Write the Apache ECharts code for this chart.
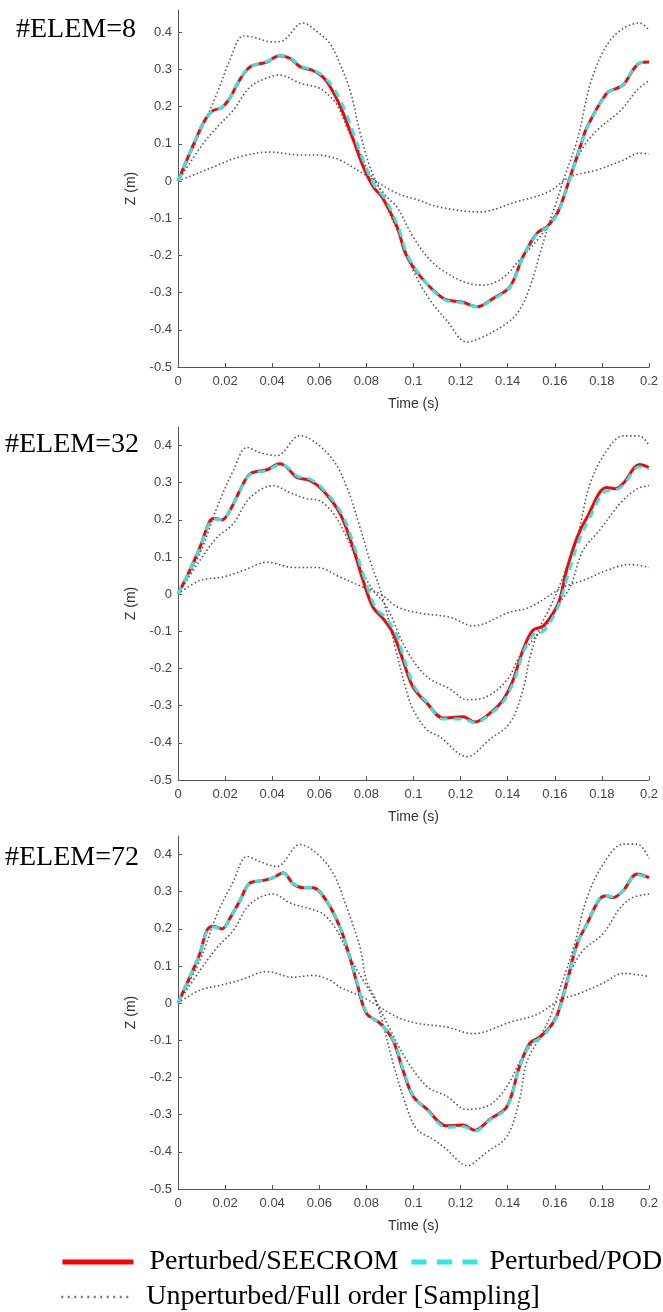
<!DOCTYPE html>
<html>
<head>
<meta charset="utf-8">
<script src="https://cdn.jsdelivr.net/npm/echarts@6/dist/echarts.min.js"></script>
<style>html,body{margin:0;padding:0;background:#fff}#c{width:663px;height:1312px}</style>
</head>
<body>
<div id="c"></div>
<script>
// ---------- DATA ----------
var panelTitles = ['#ELEM=8', '#ELEM=32', '#ELEM=72'];
var xTicks = [0, 0.02, 0.04, 0.06, 0.08, 0.1, 0.12, 0.14, 0.16, 0.18, 0.2];
var yTicks = [-0.5, -0.4, -0.3, -0.2, -0.1, 0, 0.1, 0.2, 0.3, 0.4];
var seriesNames = ['Perturbed/SEECROM', 'Perturbed/POD', 'Unperturbed/Full order [Sampling]'];

// #ELEM=8
var e8_seecrom = [[0,0],[0.006,0.09],[0.0115,0.165],[0.015,0.19],[0.0185,0.197],[0.022,0.223],[0.026,0.27],[0.0306,0.307],[0.0377,0.32],[0.043,0.337],[0.0476,0.33],[0.052,0.307],[0.057,0.298],[0.0615,0.28],[0.0645,0.255],[0.069,0.2],[0.0745,0.11],[0.0787,0.038],[0.083,-0.016],[0.087,-0.046],[0.093,-0.123],[0.097,-0.2],[0.103,-0.257],[0.1126,-0.315],[0.121,-0.326],[0.127,-0.338],[0.134,-0.315],[0.141,-0.284],[0.1465,-0.203],[0.1525,-0.14],[0.1567,-0.123],[0.161,-0.087],[0.1635,-0.048],[0.1665,0.01],[0.1707,0.09],[0.1737,0.145],[0.182,0.236],[0.1865,0.25],[0.189,0.258],[0.196,0.317],[0.2,0.32]];
var e8_pod = [[0,0],[0.006,0.09],[0.0115,0.165],[0.015,0.19],[0.0185,0.197],[0.022,0.223],[0.026,0.27],[0.0306,0.307],[0.0377,0.321],[0.043,0.338],[0.0476,0.332],[0.052,0.309],[0.057,0.3],[0.0615,0.283],[0.0655,0.255],[0.0702,0.2],[0.0755,0.11],[0.0797,0.038],[0.0838,-0.016],[0.0878,-0.046],[0.0935,-0.123],[0.0975,-0.2],[0.1033,-0.257],[0.1126,-0.317],[0.121,-0.328],[0.127,-0.338],[0.134,-0.317],[0.141,-0.285],[0.1465,-0.205],[0.1525,-0.142],[0.1567,-0.125],[0.161,-0.089],[0.1635,-0.05],[0.1665,0.008],[0.1707,0.088],[0.1737,0.143],[0.182,0.235],[0.1865,0.25],[0.189,0.258],[0.196,0.318],[0.2,0.32]];
var e8_fullA = [[0,0],[0.0093,0.13],[0.0166,0.236],[0.022,0.325],[0.0277,0.39],[0.032,0.387],[0.04,0.374],[0.044,0.376],[0.053,0.425],[0.06,0.397],[0.0645,0.37],[0.0675,0.333],[0.073,0.245],[0.0773,0.13],[0.0815,0.038],[0.0858,-0.024],[0.0887,-0.07],[0.0955,-0.167],[0.0998,-0.24],[0.107,-0.32],[0.114,-0.374],[0.1227,-0.433],[0.1295,-0.419],[0.1397,-0.382],[0.145,-0.347],[0.1495,-0.284],[0.1537,-0.195],[0.158,-0.105],[0.161,-0.051],[0.1635,0],[0.1695,0.11],[0.176,0.28],[0.1847,0.387],[0.196,0.425],[0.2,0.405]];
var e8_fullB = [[0,0],[0.0106,0.1],[0.0166,0.145],[0.0234,0.19],[0.0306,0.253],[0.0377,0.277],[0.043,0.285],[0.052,0.263],[0.06,0.25],[0.0645,0.228],[0.068,0.2],[0.0717,0.145],[0.0773,0.075],[0.0815,0.02],[0.0887,-0.043],[0.093,-0.07],[0.0998,-0.15],[0.107,-0.212],[0.114,-0.247],[0.1227,-0.274],[0.1295,-0.28],[0.138,-0.26],[0.145,-0.212],[0.1525,-0.159],[0.158,-0.113],[0.1635,-0.051],[0.1665,0.011],[0.172,0.09],[0.178,0.137],[0.188,0.19],[0.195,0.245],[0.2,0.27]];
var e8_fullC = [[0,0],[0.008,0.02],[0.015,0.038],[0.026,0.065],[0.039,0.078],[0.052,0.07],[0.06,0.07],[0.0645,0.065],[0.069,0.056],[0.0787,0.02],[0.093,-0.033],[0.1015,-0.05],[0.111,-0.07],[0.128,-0.083],[0.144,-0.055],[0.157,-0.03],[0.1665,0.011],[0.178,0.03],[0.189,0.056],[0.196,0.075],[0.2,0.073]];

// #ELEM=32
var e32_seecrom = [[0,0],[0.005,0.064],[0.0093,0.126],[0.0136,0.198],[0.0157,0.204],[0.0187,0.2],[0.022,0.225],[0.0263,0.279],[0.0306,0.324],[0.0378,0.335],[0.0433,0.351],[0.0463,0.341],[0.0505,0.314],[0.056,0.306],[0.0616,0.279],[0.0688,0.217],[0.0743,0.126],[0.0786,0.037],[0.0828,-0.035],[0.087,-0.065],[0.0913,-0.105],[0.0955,-0.177],[0.0998,-0.25],[0.1057,-0.293],[0.1125,-0.333],[0.121,-0.33],[0.126,-0.344],[0.1325,-0.32],[0.138,-0.285],[0.1423,-0.231],[0.1465,-0.15],[0.1507,-0.097],[0.155,-0.086],[0.1593,-0.051],[0.162,-0.016],[0.165,0.064],[0.1695,0.153],[0.1737,0.207],[0.182,0.287],[0.1857,0.284],[0.189,0.298],[0.196,0.349],[0.2,0.341]];
var e32_pod = [[0,0],[0.005,0.064],[0.0093,0.126],[0.0136,0.195],[0.0157,0.202],[0.0187,0.2],[0.022,0.225],[0.0263,0.279],[0.0306,0.322],[0.0378,0.333],[0.0433,0.349],[0.0463,0.342],[0.0505,0.318],[0.056,0.31],[0.0616,0.283],[0.0695,0.217],[0.075,0.126],[0.0795,0.037],[0.0838,-0.035],[0.088,-0.062],[0.0925,-0.105],[0.0962,-0.177],[0.1005,-0.25],[0.106,-0.293],[0.1125,-0.336],[0.121,-0.336],[0.126,-0.346],[0.1325,-0.323],[0.138,-0.29],[0.1428,-0.231],[0.147,-0.15],[0.1515,-0.105],[0.155,-0.1],[0.159,-0.065],[0.1622,-0.02],[0.1655,0.05],[0.17,0.14],[0.1742,0.198],[0.182,0.278],[0.1857,0.28],[0.189,0.293],[0.196,0.343],[0.2,0.337]];
var e32_fullA = [[0,0],[0.0093,0.11],[0.0166,0.234],[0.0235,0.333],[0.0293,0.395],[0.0348,0.381],[0.042,0.373],[0.0518,0.427],[0.0573,0.413],[0.066,0.36],[0.0717,0.288],[0.0773,0.18],[0.0815,0.091],[0.0865,0],[0.0925,-0.15],[0.097,-0.26],[0.0998,-0.31],[0.1057,-0.365],[0.111,-0.383],[0.1227,-0.437],[0.1325,-0.39],[0.141,-0.346],[0.1465,-0.257],[0.1495,-0.168],[0.1537,-0.088],[0.158,-0.035],[0.1635,0.046],[0.1695,0.153],[0.175,0.298],[0.182,0.386],[0.189,0.426],[0.196,0.426],[0.2,0.4]];
var e32_fullB = [[0,0],[0.0093,0.091],[0.0166,0.153],[0.0235,0.19],[0.0306,0.26],[0.0405,0.292],[0.0476,0.273],[0.0548,0.257],[0.06,0.252],[0.066,0.217],[0.0717,0.153],[0.0773,0.072],[0.0828,0.011],[0.0887,-0.035],[0.097,-0.15],[0.1057,-0.222],[0.1155,-0.255],[0.1227,-0.284],[0.131,-0.276],[0.1397,-0.231],[0.145,-0.168],[0.1507,-0.123],[0.158,-0.07],[0.162,-0.024],[0.1665,0.019],[0.172,0.118],[0.179,0.172],[0.1877,0.244],[0.195,0.284],[0.2,0.292]];
var e32_fullC = [[0,0],[0.0093,0.037],[0.019,0.046],[0.0277,0.064],[0.0378,0.086],[0.049,0.072],[0.059,0.072],[0.0688,0.046],[0.0786,0.019],[0.086,0],[0.0935,-0.035],[0.1028,-0.051],[0.1155,-0.062],[0.1253,-0.085],[0.141,-0.048],[0.1495,-0.035],[0.1635,0.019],[0.172,0.037],[0.182,0.064],[0.192,0.08],[0.2,0.072]];

// #ELEM=72
var e72_seecrom = [[0,0],[0.005,0.07],[0.0093,0.134],[0.0123,0.196],[0.015,0.207],[0.0187,0.2],[0.022,0.228],[0.0263,0.276],[0.0306,0.324],[0.036,0.33],[0.0405,0.338],[0.0446,0.351],[0.049,0.321],[0.0531,0.311],[0.0573,0.311],[0.063,0.276],[0.0688,0.204],[0.073,0.123],[0.076,0.054],[0.08,-0.027],[0.0858,-0.054],[0.0913,-0.1],[0.0955,-0.18],[0.0998,-0.25],[0.1057,-0.285],[0.114,-0.33],[0.121,-0.328],[0.126,-0.342],[0.1325,-0.312],[0.1397,-0.278],[0.145,-0.171],[0.1495,-0.107],[0.1537,-0.091],[0.158,-0.064],[0.161,-0.032],[0.165,0.054],[0.1695,0.16],[0.1737,0.214],[0.179,0.28],[0.182,0.289],[0.1847,0.284],[0.189,0.303],[0.195,0.348],[0.2,0.338]];
var e72_pod = [[0,0],[0.005,0.07],[0.0093,0.134],[0.0123,0.194],[0.015,0.205],[0.0187,0.2],[0.022,0.228],[0.0263,0.276],[0.0306,0.324],[0.036,0.33],[0.0405,0.338],[0.0446,0.35],[0.049,0.322],[0.0531,0.312],[0.0573,0.311],[0.063,0.277],[0.0688,0.205],[0.073,0.123],[0.0762,0.054],[0.0802,-0.027],[0.0858,-0.055],[0.0915,-0.1],[0.0957,-0.18],[0.1,-0.25],[0.1057,-0.287],[0.114,-0.334],[0.121,-0.332],[0.126,-0.344],[0.1325,-0.314],[0.1397,-0.28],[0.145,-0.172],[0.1495,-0.11],[0.1537,-0.095],[0.158,-0.066],[0.161,-0.034],[0.165,0.052],[0.1695,0.158],[0.1737,0.214],[0.179,0.282],[0.182,0.29],[0.1847,0.286],[0.189,0.303],[0.195,0.346],[0.2,0.336]];
var e72_fullA = [[0,0],[0.0093,0.115],[0.0166,0.24],[0.0235,0.328],[0.0293,0.395],[0.0348,0.381],[0.042,0.368],[0.0518,0.427],[0.059,0.403],[0.066,0.348],[0.0717,0.257],[0.0773,0.15],[0.08,0.062],[0.0845,0],[0.0913,-0.16],[0.097,-0.278],[0.1015,-0.34],[0.1083,-0.366],[0.114,-0.393],[0.1227,-0.437],[0.131,-0.401],[0.1397,-0.358],[0.145,-0.26],[0.148,-0.16],[0.1537,-0.091],[0.158,-0.037],[0.162,0.035],[0.168,0.15],[0.1737,0.284],[0.1805,0.374],[0.189,0.428],[0.195,0.428],[0.2,0.39]];
var e72_fullB = [[0,0],[0.0093,0.088],[0.0166,0.15],[0.0235,0.196],[0.0306,0.267],[0.0405,0.294],[0.0476,0.27],[0.056,0.254],[0.0616,0.24],[0.0674,0.196],[0.073,0.123],[0.0786,0.062],[0.0845,0],[0.09,-0.07],[0.097,-0.152],[0.1057,-0.224],[0.114,-0.25],[0.1227,-0.286],[0.1325,-0.273],[0.1397,-0.224],[0.145,-0.16],[0.1507,-0.107],[0.1567,-0.072],[0.161,-0.037],[0.1665,0.08],[0.172,0.142],[0.1805,0.187],[0.1877,0.256],[0.193,0.284],[0.2,0.294]];
var e72_fullC = [[0,0],[0.0093,0.035],[0.0178,0.048],[0.0263,0.062],[0.0378,0.085],[0.049,0.07],[0.0573,0.075],[0.0645,0.062],[0.0688,0.043],[0.0786,0.016],[0.093,-0.037],[0.1015,-0.054],[0.114,-0.064],[0.1253,-0.082],[0.141,-0.051],[0.1525,-0.03],[0.162,0.008],[0.1707,0.027],[0.1805,0.054],[0.189,0.08],[0.2,0.072]];

// ---------- LAYOUT ----------
var panels = [
  {seecrom: e8_seecrom, pod: e8_pod, full: [e8_fullA, e8_fullB, e8_fullC], top: 10, height: 357, ymax: 0.46, titleTop: 16, titleLeft: 16},
  {seecrom: e32_seecrom, pod: e32_pod, full: [e32_fullA, e32_fullB, e32_fullC], top: 427, height: 353, ymax: 0.45, titleTop: 431, titleLeft: 5},
  {seecrom: e72_seecrom, pod: e72_pod, full: [e72_fullA, e72_fullB, e72_fullC], top: 836, height: 353, ymax: 0.45, titleTop: 844, titleLeft: 5}
];

var axisCol = '#555';
var labelCol = '#444';
var grids = [], xAxes = [], yAxes = [], series = [], titles = [];
panels.forEach(function (p, i) {
  grids.push({left: 178, width: 471, top: p.top, height: p.height});
  titles.push({text: panelTitles[i], left: p.titleLeft, top: p.titleTop, padding: 0,
    textStyle: {fontFamily: 'Liberation Serif', fontSize: 28, fontWeight: 'normal', color: '#000'}});
  xAxes.push({type: 'value', gridIndex: i, min: 0, max: 0.2, interval: 0.02,
    name: 'Time (s)', nameLocation: 'middle', nameGap: 30,
    nameTextStyle: {fontFamily: 'Liberation Sans', fontSize: 14, color: '#333'},
    axisLine: {onZero: false, lineStyle: {color: axisCol, width: 1}},
    axisTick: {inside: true, length: 4, lineStyle: {color: axisCol}},
    axisLabel: {fontFamily: 'Liberation Sans', fontSize: 13, color: labelCol, margin: 8,
      formatter: function (v) { return String(+v.toFixed(2)); }},
    splitLine: {show: false}});
  yAxes.push({type: 'value', gridIndex: i, min: -0.5, max: p.ymax, interval: 0.1,
    name: 'Z (m)', nameLocation: 'middle', nameGap: 40,
    nameTextStyle: {fontFamily: 'Liberation Sans', fontSize: 14, color: '#333'},
    axisLine: {show: true, onZero: false, lineStyle: {color: axisCol, width: 1}},
    axisTick: {show: true, inside: true, length: 4, lineStyle: {color: axisCol}, customValues: yTicks},
    axisLabel: {fontFamily: 'Liberation Sans', fontSize: 13, color: labelCol, margin: 6,
      customValues: yTicks,
      formatter: function (v) { return v > 0.41 ? '' : String(+v.toFixed(1)); }},
    splitLine: {show: false}});
  p.full.forEach(function (d) {
    series.push({name: seriesNames[2], type: 'line', xAxisIndex: i, yAxisIndex: i, data: d,
      smooth: 0.35, symbol: 'none', z: 2,
      lineStyle: {color: '#555', width: 1.6, type: [1.5, 2.5]}});
  });
  series.push({name: seriesNames[0], type: 'line', xAxisIndex: i, yAxisIndex: i, data: p.seecrom,
    smooth: 0.35, symbol: 'none', z: 3, lineStyle: {color: '#ff0000', width: 3}});
  series.push({name: seriesNames[1], type: 'line', xAxisIndex: i, yAxisIndex: i, data: p.pod,
    smooth: 0.35, symbol: 'none', z: 4, lineStyle: {color: '#2ee6e6', width: 3, type: [8, 6]}});
});

function legendBox(left, top, iconW, padLeft, item) {
  return {left: left, top: top, padding: 0, itemWidth: iconW, itemHeight: 14, selectedMode: false,
    textStyle: {fontFamily: 'Liberation Serif', fontSize: 28, color: '#000', padding: [0, 0, 0, padLeft]},
    data: [item]};
}
var option = {
  animation: false,
  backgroundColor: '#fff',
  title: titles,
  grid: grids,
  xAxis: xAxes,
  yAxis: yAxes,
  legend: [
    legendBox(60, 1248, 71, 11, {name: seriesNames[0], itemStyle: {opacity: 0}, lineStyle: {width: 5}}),
    legendBox(409, 1248, 66, 7, {name: seriesNames[1], itemStyle: {opacity: 0}, lineStyle: {width: 5, type: [15, 10.5]}}),
    legendBox(60, 1283, 69, 11, {name: seriesNames[2], itemStyle: {opacity: 0}, lineStyle: {width: 2.5, color: '#777', type: [2, 4.5]}})
  ],
  series: series
};
var chart = echarts.init(document.getElementById('c'), null, {renderer: 'canvas'});
chart.setOption(option);
</script>
</body>
</html>
